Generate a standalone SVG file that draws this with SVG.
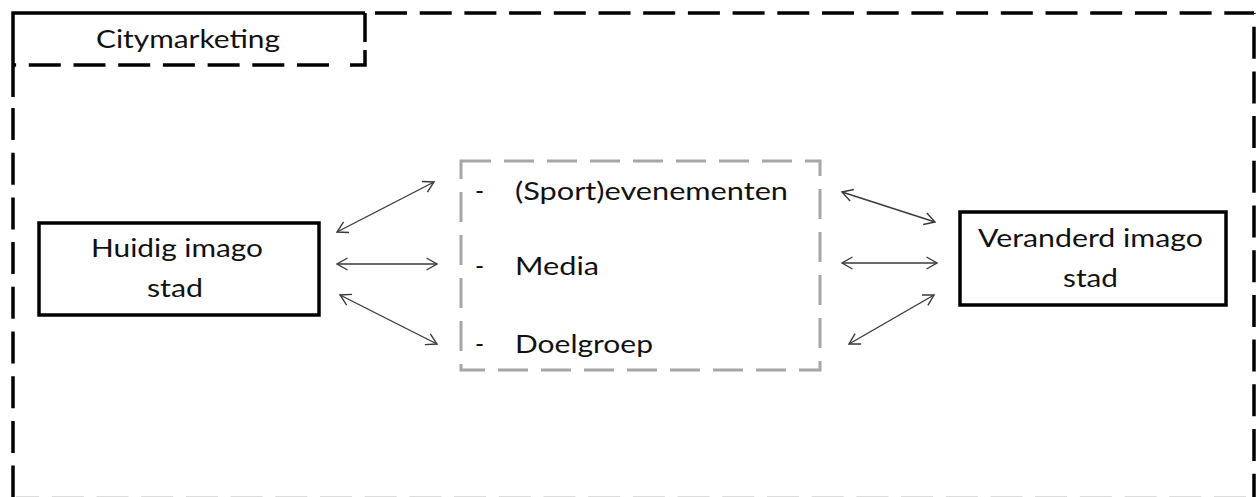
<svg xmlns="http://www.w3.org/2000/svg" width="1256" height="497" viewBox="0 0 1256 497">
  <style>
    .t { font-family: Lato, "Open Sans", "Liberation Sans", sans-serif; font-size: 24.5px; fill: #111; }
    .frame { fill: none; stroke: #000; stroke-width: 3.5; }
    .dash { stroke-dasharray: 32 12.7; }
    .box { fill: #fff; stroke: #000; stroke-width: 3.5; }
    .grey { fill: none; stroke: #a6a6a6; stroke-width: 3; stroke-dasharray: 30 13; }
    .conn { stroke: #3a3a3a; stroke-width: 1.4; fill: none; marker-start: url(#ah); marker-end: url(#ah); }
  </style>
  <defs>
    <marker id="ah" markerUnits="userSpaceOnUse" viewBox="-13 -8 15 16" refX="0" refY="0" markerWidth="15" markerHeight="16" orient="auto-start-reverse">
      <path d="M-10.5,-6 L0,0 L-10.5,6" fill="none" stroke="#3a3a3a" stroke-width="1.4" stroke-linejoin="miter"/>
    </marker>
  </defs>
  <rect width="1256" height="497" fill="#fff"/>

  <g id="frame">
    <path class="frame" d="M13,97 V13 H365"/>
    <path class="frame dash" d="M375,13 H1254" />
    <path class="frame dash" stroke-dashoffset="31" d="M1254,13 V499"/>
    <path class="frame dash" d="M13,108 V499"/>
    <path fill="none" stroke="#dcdcdc" stroke-width="1" stroke-dasharray="32 12.7" stroke-dashoffset="-8" d="M1254,496.5 H16"/>
  </g>

  <g id="title">
    <path class="frame" d="M365,13 V42 M365,50 V65 H350"/>
    <path class="frame dash" stroke-dashoffset="-6" d="M335,65 H13"/>
    <text class="t" x="96" y="48" textLength="184" lengthAdjust="spacingAndGlyphs">Citymarketing</text>
  </g>

  <g id="huidig">
    <rect class="box" x="39" y="223" width="280" height="92"/>
    <text class="t" x="91" y="257" textLength="172" lengthAdjust="spacingAndGlyphs">Huidig imago</text>
    <text class="t" x="147" y="297" textLength="56" lengthAdjust="spacingAndGlyphs">stad</text>
  </g>

  <g id="factoren">
    <rect class="grey" x="461" y="161" width="359" height="209"/>
    <text class="t" x="475" y="200">-</text>
    <text class="t" x="515" y="200" textLength="273" lengthAdjust="spacingAndGlyphs">(Sport)evenementen</text>
    <text class="t" x="475" y="275">-</text>
    <text class="t" x="515" y="275" textLength="84" lengthAdjust="spacingAndGlyphs">Media</text>
    <text class="t" x="475" y="353">-</text>
    <text class="t" x="515" y="353" textLength="138" lengthAdjust="spacingAndGlyphs">Doelgroep</text>
  </g>

  <g id="veranderd">
    <rect class="box" x="960" y="212" width="266" height="93"/>
    <text class="t" x="978" y="247" textLength="225" lengthAdjust="spacingAndGlyphs">Veranderd imago</text>
    <text class="t" x="1063" y="287" textLength="55" lengthAdjust="spacingAndGlyphs">stad</text>
  </g>

  <g id="connectors">
    <line class="conn" x1="337" y1="232" x2="434" y2="182"/>
    <line class="conn" x1="337" y1="264" x2="437" y2="264"/>
    <line class="conn" x1="340" y1="295" x2="437" y2="344"/>
    <line class="conn" x1="842" y1="192" x2="935" y2="222"/>
    <line class="conn" x1="842" y1="263" x2="937" y2="263"/>
    <line class="conn" x1="849" y1="344" x2="934" y2="295"/>
  </g>
</svg>
